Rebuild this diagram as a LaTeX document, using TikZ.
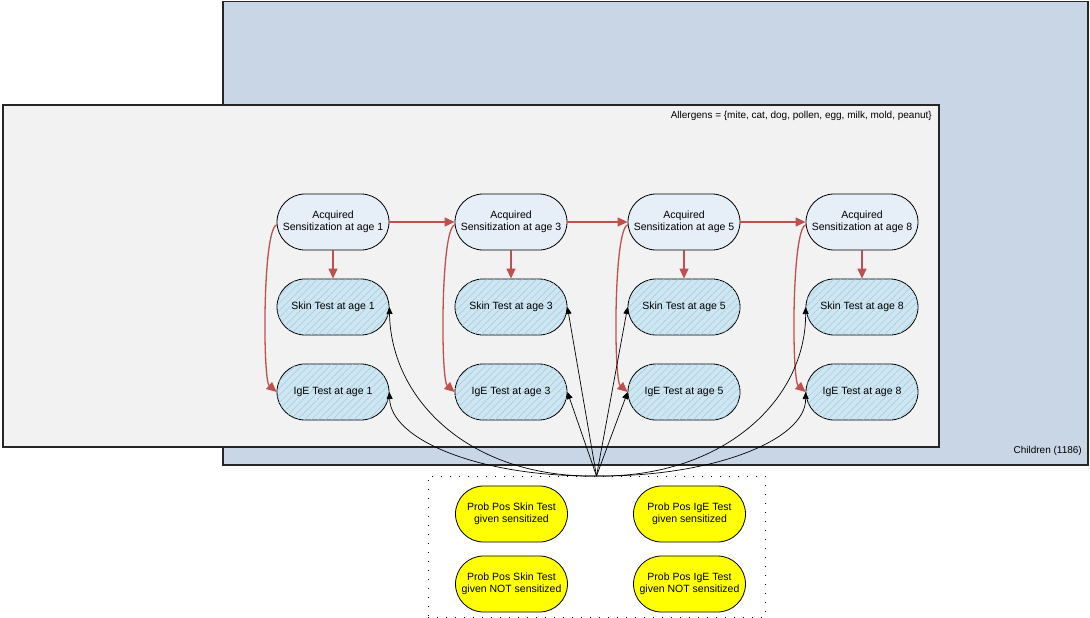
\documentclass[tikz,border=0pt]{standalone}
\usepackage{fontspec}
\setmainfont{Liberation Sans}
\usetikzlibrary{arrows.meta,patterns.meta,positioning}
\definecolor{outerblue}{HTML}{C9D6E6}
\definecolor{innergrey}{HTML}{F2F2F2}
\definecolor{acqfill}{HTML}{E6EEF8}
\definecolor{testfill}{HTML}{CDE6F2}
\definecolor{hatchcol}{HTML}{A6C8DA}
\definecolor{redarrow}{HTML}{C0504D}
\definecolor{yel}{HTML}{FFFF00}
\tikzset{
  base/.style={draw=black, line width=0.8pt, rounded corners=28pt, minimum width=112pt, minimum height=56pt, inner sep=1pt, align=center, font=\fontsize{10.5}{12.5}\selectfont},
  acq/.style={base, fill=acqfill},
  test/.style={base, fill=testfill, postaction={pattern={Lines[angle=45,distance=5pt,line width=0.5pt]}, pattern color=hatchcol}},
  prob/.style={base, fill=yel},
  redar/.style={draw=redarrow, line width=1.3pt, -{Triangle[length=10pt,width=9pt]}},
  blkar/.style={draw=black, line width=0.7pt, -{Triangle[length=7pt,width=6pt]}},
  plate/.style={draw=black!85, line width=1.5pt},
  lbl/.style={font=\fontsize{10}{12}\selectfont, inner sep=0pt}
}
\begin{document}
\begin{tikzpicture}[x=1pt,y=-1pt]
\useasboundingbox (0,0) rectangle (1090,618);
% plates
\node[plate, fill=outerblue, minimum width=865pt, minimum height=463pt, inner sep=0pt, anchor=north west] (children) at (222,1) {};
\node[plate, fill=innergrey, minimum width=936pt, minimum height=342pt, inner sep=0pt, anchor=north west] (allergens) at (2,104) {};
\node[lbl, anchor=east] (childlbl) at (1082,451) {Children (1186)};
\node[lbl, anchor=east] (alllbl) at (932,116) {Allergens = \{mite, cat, dog, pollen, egg, milk, mold, peanut\}};
% dotted group
\node[draw=black, line width=0.9pt, dash pattern=on 1pt off 8pt, minimum width=337pt, minimum height=141pt, inner sep=0pt, anchor=north west] (group) at (428,476) {};
\coordinate (conv) at (596.5,476);
% columns
\foreach \i/\x in {1/333,3/511,5/684,8/862}{
  \node[acq] (a\i) at (\x,222) {Acquired\\Sensitization at age \i};
  \node[test] (s\i) at (\x,307) {Skin Test at age \i};
  \node[test] (g\i) at (\x,392) {IgE Test at age \i};
}
% probability nodes
\node[prob] (p1) at (511.5,514) {Prob Pos Skin Test\\given sensitized};
\node[prob] (p2) at (689.5,514) {Prob Pos IgE Test\\given sensitized};
\node[prob] (p3) at (511.5,584) {Prob Pos Skin Test\\given NOT sensitized};
\node[prob] (p4) at (689.5,584) {Prob Pos IgE Test\\given NOT sensitized};
% red arrows
\draw[redar] (a1.east) -- (a3.west);
\draw[redar] (a3.east) -- (a5.west);
\draw[redar] (a5.east) -- (a8.west);
\foreach \i in {1,3,5,8}{
  \draw[redar] (a\i.south) -- (s\i.north);
  \draw[redar] ([yshift=-3pt]a\i.west) .. controls +(-14,4) and +(-14,-12) .. (g\i.west);
}
% black arrows
\draw[blkar] (conv) .. controls (470,478) and (391,400) .. (s1.east);
\draw[blkar] (conv) .. controls (480,477) and (391,440) .. (g1.east);
\draw[blkar] (conv) -- (s3.east);
\draw[blkar] (conv) -- (g3.east);
\draw[blkar] (conv) -- (s5.west);
\draw[blkar] (conv) -- (g5.west);
\draw[blkar] (conv) .. controls (723,478) and (806,400) .. (s8.west);
\draw[blkar] (conv) .. controls (713,477) and (806,440) .. (g8.west);
\end{tikzpicture}
\end{document}
